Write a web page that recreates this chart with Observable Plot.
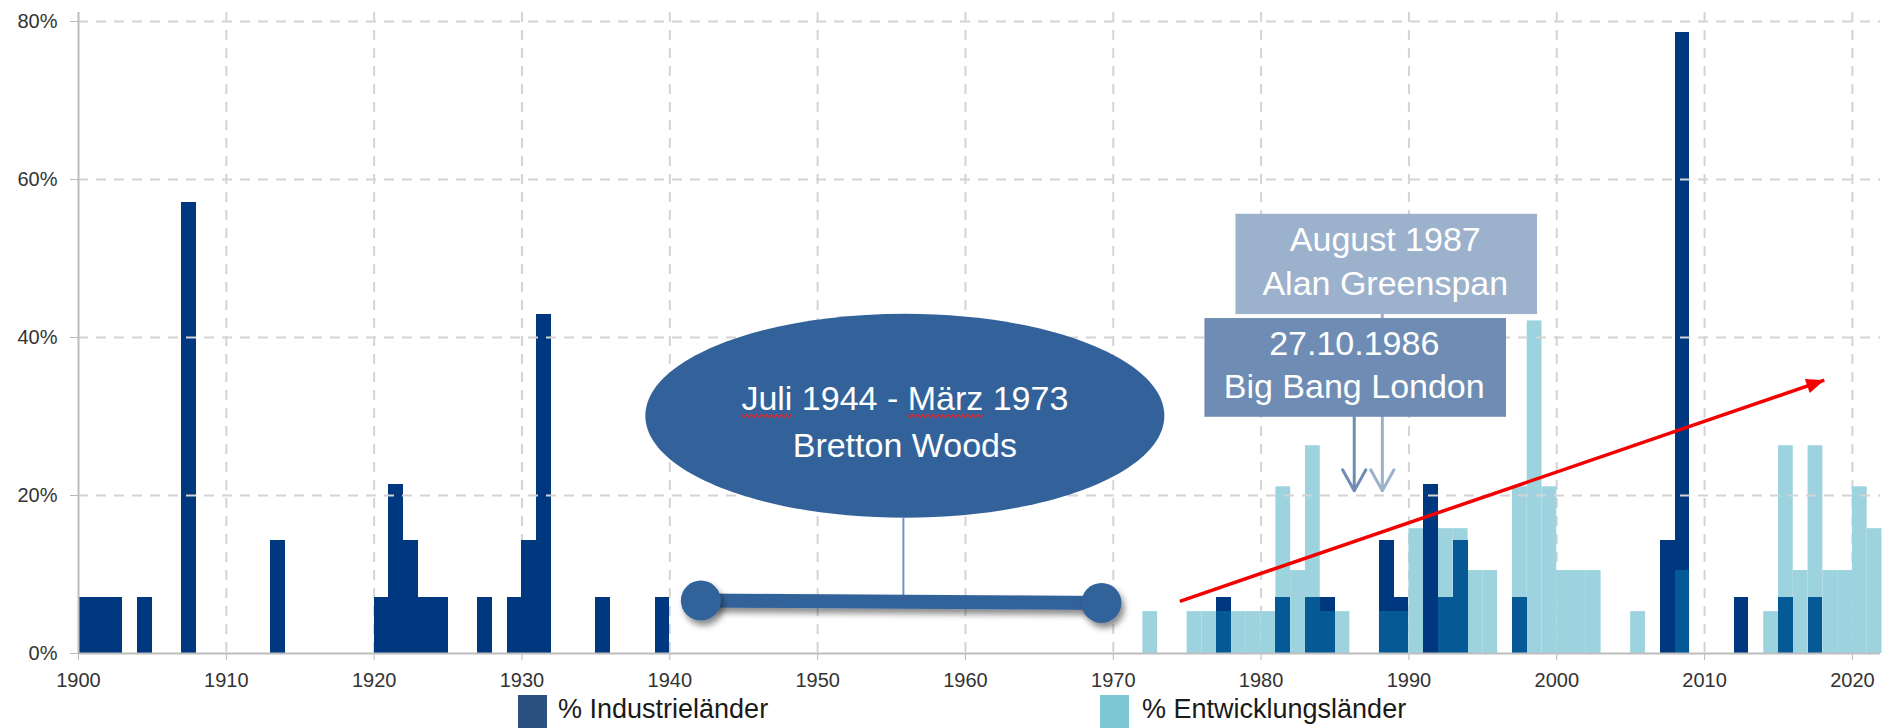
<!DOCTYPE html>
<html>
<head>
<meta charset="utf-8">
<script src="https://cdn.jsdelivr.net/npm/d3@7"></script>
<script src="https://cdn.jsdelivr.net/npm/@observablehq/plot@0.6"></script>
<style>
  html, body { margin: 0; padding: 0; background: #fff; overflow: hidden; }
  #wrap { position: relative; width: 1883px; height: 728px; font-family: "Liberation Sans", Arial, sans-serif; }
  #chart svg { display: block; }
  .legend-item { position: absolute; top: 695px; height: 34px; display: flex; align-items: flex-start; }
  .legend-swatch { width: 29px; height: 34px; }
  .legend-text { font-size: 27px; line-height: 27px; color: #1a1a1a; margin-top: 1px; white-space: nowrap; }
</style>
</head>
<body>
<div id="wrap">
  <div id="chart"></div>
  <div id="legend"></div>
</div>
<script>
// Share of countries with a banking crisis per year (%)
const industrialYears = [1900, 1901, 1902, 1904, 1907, 1913, 1920, 1921, 1922, 1923, 1924, 1927, 1929, 1930, 1931, 1935, 1939,
  1977, 1981, 1983, 1984, 1988, 1989, 1991, 1992, 1993, 1997, 2007, 2008, 2012, 2015, 2017];
const industrialShare = [7.1, 7.1, 7.1, 7.1, 57.1, 14.3, 7.1, 21.4, 14.3, 7.1, 7.1, 7.1, 7.1, 14.3, 42.9, 7.1, 7.1,
  7.1, 7.1, 7.1, 7.1, 14.3, 7.1, 21.4, 7.1, 14.3, 7.1, 14.3, 78.6, 7.1, 7.1, 7.1];

const developingYears = [1972, 1975, 1976, 1977, 1978, 1979, 1980, 1981, 1982, 1983, 1984, 1985, 1988, 1989, 1990,
  1992, 1993, 1994, 1995, 1997, 1998, 1999, 2000, 2001, 2002, 2005, 2008, 2014, 2015, 2016, 2017, 2018, 2019, 2020, 2021];
const developingShare = [5.3, 5.3, 5.3, 5.3, 5.3, 5.3, 5.3, 21.1, 10.5, 26.3, 5.3, 5.3, 5.3, 5.3, 15.8,
  15.8, 15.8, 10.5, 10.5, 21.1, 42.1, 21.1, 10.5, 10.5, 10.5, 5.3, 10.5, 5.3, 26.3, 10.5, 26.3, 10.5, 10.5, 21.1, 15.8];

const xTicks = [1900, 1910, 1920, 1930, 1940, 1950, 1960, 1970, 1980, 1990, 2000, 2010, 2020];
const yTicks = [0, 20, 40, 60, 80];

const seriesLabels = ["% Industrieländer", "% Entwicklungsländer"];
const brettonWoodsLabel = "Juli 1944 - März 1973\nBretton Woods";
const greenspanLabel = "August 1987\nAlan Greenspan";
const bigBangLabel = "27.10.1986\nBig Bang London";

// ---- tables built from the arrays ----
const industrial = industrialYears.map((year, i) => ({year, value: industrialShare[i]}));
const developing = developingYears.map((year, i) => ({year, value: developingShare[i]}));
const devByYear = new Map(developing.map(d => [d.year, d.value]));
// years where both groups are hit: the shared part of the bar
const overlap = industrial
  .filter(d => devByYear.has(d.year))
  .map(d => ({year: d.year, value: Math.min(d.value, devByYear.get(d.year))}));

// ---- layout ----
const W = 1883, H = 690;
const mLeft = 78, mRight = 3, mTop = 12, mBottom = 37;
const xDomain = [1900, 2021.9], yDomain = [0, 81.14];
const kx = (W - mLeft - mRight) / (xDomain[1] - xDomain[0]);
const ky = (H - mTop - mBottom) / (yDomain[1] - yDomain[0]);

// annotation geometry in data units
const bretton = {x: 1955.9, y: 30.1, textY: 29.7};
const dumbbell = [{x1: 1942.1, y1: 6.7, x2: 1969.2, y2: 6.4}];
const stem = [{x1: 1955.8, y1: 17.2, x2: 1955.8, y2: 6.6}];
const boxGreenspan = [{x1: 1978.3, x2: 1998.7, y1: 42.9, y2: 55.6}];
const boxBigBang = [{x1: 1976.2, x2: 1996.6, y1: 29.9, y2: 42.4}];
const arrowGreenspan = [{x1: 1988.2, y1: 42.9, x2: 1988.2, y2: 20.6}];
const arrowBigBang = [{x1: 1986.3, y1: 29.9, x2: 1986.3, y2: 20.6}];
const trend = [{x1: 1974.5, y1: 6.6, x2: 2018.1, y2: 34.6}];
const trendAngle = Math.atan2(-(trend[0].y2 - trend[0].y1) * ky, (trend[0].x2 - trend[0].x1) * kx) * 180 / Math.PI;

// custom symbols: an ellipse and a filled arrow head whose tip sits at the anchor
const ellipseSymbol = (rx, ry) => ({
  draw(ctx) {
    const k = 0.5523;
    ctx.moveTo(rx, 0);
    ctx.bezierCurveTo(rx, ry * k, rx * k, ry, 0, ry);
    ctx.bezierCurveTo(-rx * k, ry, -rx, ry * k, -rx, 0);
    ctx.bezierCurveTo(-rx, -ry * k, -rx * k, -ry, 0, -ry);
    ctx.bezierCurveTo(rx * k, -ry, rx, -ry * k, rx, 0);
    ctx.closePath();
  }
});
const headSymbol = {
  draw(ctx) {
    ctx.moveTo(0, 0);
    ctx.lineTo(-18, -7.5);
    ctx.lineTo(-18, 7.5);
    ctx.closePath();
  }
};

const NAVY = "#00387f", LIGHT = "#9dd3df", SHARED = "#055a96";
const STEEL = "#33629a";
const grid = {stroke: "#d4d4d4", strokeWidth: 2, strokeDasharray: "10,8"};

const chart = Plot.plot({
  width: W,
  height: H,
  marginLeft: mLeft,
  marginRight: mRight,
  marginTop: mTop,
  marginBottom: mBottom,
  style: {background: "white", color: "#333", fontFamily: "'Liberation Sans', Arial, sans-serif", fontSize: "20px"},
  x: {domain: xDomain, ticks: xTicks, tickFormat: d => String(d), tickSize: 7, tickPadding: 12, label: null},
  y: {domain: yDomain, ticks: yTicks, tickFormat: d => d + "%", tickSize: 8, tickPadding: 13, label: null},
  marks: [
    // vertical grid sits behind the bars
    Plot.ruleX(xTicks.filter(d => d > 1900), grid),
    // bars
    Plot.rect(developing, {x1: "year", x2: d => d.year + 1, y1: () => 0, y2: "value", fill: LIGHT}),
    Plot.rect(industrial, {x1: "year", x2: d => d.year + 1, y1: () => 0, y2: "value", fill: NAVY, shapeRendering: "crispEdges"}),
    Plot.rect(overlap, {x1: "year", x2: d => d.year + 1, y1: () => 0, y2: "value", fill: SHARED, shapeRendering: "crispEdges"}),
    // horizontal grid runs over them
    Plot.ruleY(yTicks.filter(d => d > 0), grid),
    // axis lines
    Plot.ruleY([0], {stroke: "#bdbdbd", strokeWidth: 2}),
    Plot.ruleX([1900], {stroke: "#bdbdbd", strokeWidth: 2}),

    // Bretton Woods period
    Plot.dot([bretton], {x: "x", y: "y", r: 1, symbol: ellipseSymbol(259.5, 102), fill: STEEL, stroke: "none"}),
    Plot.link(stem, {x1: "x1", y1: "y1", x2: "x2", y2: "y2", stroke: "#7096c4", strokeWidth: 2}),
    Plot.link(dumbbell, {x1: "x1", y1: "y1", x2: "x2", y2: "y2", stroke: STEEL, strokeWidth: 14, ariaDescription: "dumbbell"}),
    Plot.dot([{x: dumbbell[0].x1, y: dumbbell[0].y1}, {x: dumbbell[0].x2, y: dumbbell[0].y2}],
      {x: "x", y: "y", r: 20, fill: STEEL, stroke: "none", ariaDescription: "dumbbell"}),
    Plot.text([brettonWoodsLabel], {x: bretton.x, y: bretton.textY, text: d => d, fill: "white", fontSize: 34,
      lineHeight: 1.37, textAnchor: "middle", ariaDescription: "bretton-label"}),

    // event boxes and their arrows
    Plot.rect(boxGreenspan, {x1: "x1", x2: "x2", y1: "y1", y2: "y2", fill: "#9cb1cc"}),
    Plot.arrow(arrowGreenspan, {x1: "x1", y1: "y1", x2: "x2", y2: "y2", stroke: "#9cb1cc", strokeWidth: 3, headAngle: 58, headLength: 12}),
    Plot.rect(boxBigBang, {x1: "x1", x2: "x2", y1: "y1", y2: "y2", fill: "#6f8db4"}),
    Plot.arrow(arrowBigBang, {x1: "x1", y1: "y1", x2: "x2", y2: "y2", stroke: "#6f8db4", strokeWidth: 3, headAngle: 58, headLength: 12}),
    Plot.text([greenspanLabel], {x: 1988.4, y: 49.9, text: d => d, fill: "white", fontSize: 34, lineHeight: 1.276, textAnchor: "middle"}),
    Plot.text([bigBangLabel], {x: 1986.3, y: 36.8, text: d => d, fill: "white", fontSize: 34, lineHeight: 1.26, textAnchor: "middle"}),

    // rising trend
    Plot.link(trend, {x1: "x1", y1: "y1", x2: "x2", y2: "y2", stroke: "#f50000", strokeWidth: 3.5}),
    Plot.dot(trend, {x: "x2", y: "y2", r: 1, symbol: headSymbol, rotate: trendAngle, fill: "#f50000", stroke: "none"})
  ]
});

document.getElementById("chart").appendChild(chart);

// ---- finishing touches on the rendered svg ----
const svg = d3.select(chart);
svg.selectAll('g[aria-label="x-axis tick"], g[aria-label="y-axis tick"]').attr("stroke", "#b8b8b8");

const defs = svg.append("defs");
const shadow = defs.append("filter").attr("id", "dumbbell-shadow")
  .attr("filterUnits", "userSpaceOnUse").attr("x", 0).attr("y", 0).attr("width", W).attr("height", H);
shadow.append("feDropShadow").attr("dx", 3).attr("dy", 5).attr("stdDeviation", 3)
  .attr("flood-color", "#000").attr("flood-opacity", 0.45);
svg.selectAll('g[aria-description="dumbbell"]').attr("filter", "url(#dumbbell-shadow)");

// red spell-check squiggles under "Juli" and "März"
const labelNode = svg.select('g[aria-description="bretton-label"] text').node();
if (labelNode && labelNode.getExtentOfChar) {
  try {
    const m = chart.getScreenCTM().inverse().multiply(labelNode.getScreenCTM());
    const squiggle = (i0, i1) => {
      const a = labelNode.getExtentOfChar(i0), b = labelNode.getExtentOfChar(i1);
      const x0 = a.x, x1 = b.x + b.width, y = a.y + a.height - 1.5;
      let d = "";
      for (let x = x0, k = 0; x <= x1; x += 2.5, k++) {
        const p = new DOMPoint(x, y + (k % 2 ? 1.6 : -1.6)).matrixTransform(m);
        d += (k ? "L" : "M") + p.x.toFixed(1) + "," + p.y.toFixed(1);
      }
      return d;
    };
    const line1 = brettonWoodsLabel.split("\n")[0];
    const m0 = line1.indexOf("März");
    svg.append("path")
      .attr("d", squiggle(0, 3) + squiggle(m0, m0 + 3))
      .attr("fill", "none").attr("stroke", "#e3262b").attr("stroke-width", 1.2);
  } catch (e) { /* squiggles are decoration only */ }
}

// ---- legend ----
const legendColors = ["#2c5080", "#7ec7d6"];
const legendLeft = [518, 1100];
const legend = d3.select("#legend");
seriesLabels.forEach((label, i) => {
  const item = legend.append("div").attr("class", "legend-item").style("left", legendLeft[i] + "px");
  item.append("div").attr("class", "legend-swatch").style("background", legendColors[i]);
  item.append("div").attr("class", "legend-text").style("margin-left", i === 0 ? "11px" : "13px").text(label);
});
</script>
</body>
</html>
